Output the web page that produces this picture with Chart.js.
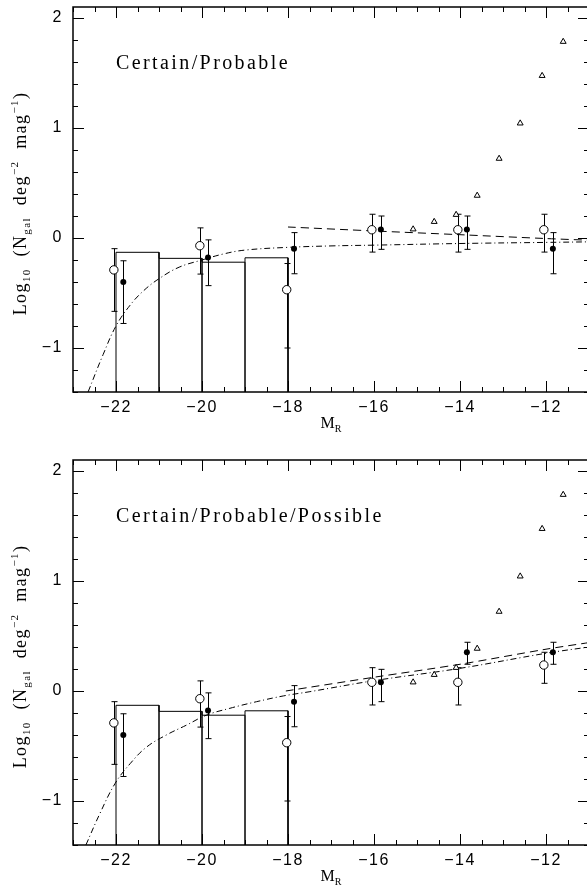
<!DOCTYPE html>
<html>
<head>
<meta charset="utf-8">
<script src="https://cdn.jsdelivr.net/npm/chart.js@4.4.1/dist/chart.umd.min.js"></script>
<style>
  html, body { margin: 0; padding: 0; background: #fff; width: 587px; height: 886px; overflow: hidden; }
  .panel { position: absolute; left: 0; width: 600px; height: 443px; }
</style>
</head>
<body>
<div class="panel" style="top:0"><canvas id="topChart" width="600" height="443"></canvas></div>
<div class="panel" style="top:443px"><canvas id="bottomChart" width="600" height="443"></canvas></div>
<script>
// axis ranges and tick labels
const xMin = -23, xMax = -11;
const yMin = -1.4, yMax = 2.1;
const xTicks = [-22, -20, -18, -16, -14, -12];
const yTicks = [-1, 0, 1, 2];

// histogram (same in both panels)
const binEdges = [-22, -21, -20, -19, -18];
const binHeights = [-0.13, -0.185, -0.22, -0.18];

// open circles
const openX = [-22.05, -20.05, -18.03, -16.05, -14.05, -12.05];
const openYTop = [-0.29, -0.07, -0.47, 0.075, 0.075, 0.075];
const openHiTop = [-0.097, 0.092, -0.232, 0.216, 0.216, 0.216];
const openLoTop = [-0.667, -0.328, -1.0, -0.128, -0.128, -0.128];
const openYBot = [-0.29, -0.07, -0.47, 0.079, 0.079, 0.236];
const openHiBot = [-0.097, 0.092, -0.232, 0.212, 0.212, 0.352];
const openLoBot = [-0.667, -0.328, -1.0, -0.127, -0.127, 0.07];

// filled circles
const filledX = [-21.83, -19.86, -17.86, -15.84, -13.84, -11.84];
const filledYTop = [-0.40, -0.177, -0.097, 0.077, 0.077, -0.097];
const filledHiTop = [-0.207, -0.017, 0.049, 0.2, 0.2, 0.049];
const filledLoTop = [-0.777, -0.433, -0.325, -0.103, -0.103, -0.325];
const filledYBot = [-0.40, -0.177, -0.097, 0.079, 0.352, 0.352];
const filledHiBot = [-0.207, -0.017, 0.049, 0.197, 0.443, 0.443];
const filledLoBot = [-0.777, -0.433, -0.325, -0.097, 0.243, 0.243];

// open triangles (same in both panels)
const triX = [-15.09, -14.6, -14.09, -13.6, -13.09, -12.6, -12.09, -11.6];
const triY = [0.08, 0.148, 0.212, 0.386, 0.722, 1.043, 1.475, 1.785];

// dash-dot curves
const schTopX = [-22.65, -22.3, -22.0, -21.67, -21.36, -21.0, -20.53, -20.0, -19.5, -19.0, -18.0, -17.0, -16.0, -14.0, -12.0, -11.0];
const schTopY = [-1.4, -1.06, -0.80, -0.61, -0.48, -0.37, -0.265, -0.2, -0.145, -0.11, -0.085, -0.072, -0.065, -0.05, -0.04, -0.035];
const schBotX = [-22.7, -22.37, -22.02, -21.67, -21.29, -20.83, -20.36, -19.9, -19.35, -18.73, -18.11, -17.49, -16.0, -14.0, -12.0, -11.0];
const schBotY = [-1.4, -1.11, -0.84, -0.66, -0.51, -0.40, -0.31, -0.22, -0.157, -0.097, -0.045, -0.006, 0.094, 0.206, 0.343, 0.40];

// dashed lines
const dashTopX = [-18.0, -16.0, -14.0, -12.0, -11.0];
const dashTopY = [0.10, 0.064, 0.03, -0.005, -0.02];
const dashBotX = [-18.05, -16.0, -14.0, -12.0, -11.0];
const dashBotY = [0.0, 0.125, 0.243, 0.38, 0.44];

const MINUS = '\u2212';

function pts(xs, ys) {
    return xs.map((x, i) => ({ x: x, y: ys[i] }));
}

function histPath() {
    let p = [];
    for (let i = 0; i < binHeights.length; i++) {
        p.push({ x: binEdges[i], y: yMin });
        p.push({ x: binEdges[i], y: binHeights[i] });
        p.push({ x: binEdges[i + 1], y: binHeights[i] });
    }
    p.push({ x: binEdges[binEdges.length - 1], y: yMin });
    return p;
}

function fmt(v) {
    return v < 0 ? MINUS + Math.abs(v) : String(v);
}

// error bars under the markers
const errorBars = {
    id: 'errorBars',
    beforeDraw(chart) {
        // wider spacing for the tick labels, like the original plot
        chart.ctx.letterSpacing = '1.5px';
    },
    beforeDatasetsDraw(chart) {
        const { ctx, scales: { x, y } } = chart;
        ctx.save();
        ctx.strokeStyle = '#000';
        ctx.lineWidth = 1;
        chart.data.datasets.forEach(ds => {
            if (!ds.errHi) return;
            ds.data.forEach((p, j) => {
                const px = Math.round(x.getPixelForValue(p.x)) + 0.5;
                const y1 = y.getPixelForValue(ds.errHi[j]);
                const y2 = y.getPixelForValue(ds.errLo[j]);
                ctx.beginPath();
                ctx.moveTo(px, y1); ctx.lineTo(px, y2);
                ctx.moveTo(px - 3, y1); ctx.lineTo(px + 3, y1);
                ctx.moveTo(px - 3, y2); ctx.lineTo(px + 3, y2);
                ctx.stroke();
            });
        });
        ctx.restore();
    }
};

// frame, inward ticks and the texts
const frame = {
    id: 'frame',
    afterDraw(chart, args, opts) {
        const { ctx, chartArea: a, scales: { x, y } } = chart;
        ctx.save();
        ctx.strokeStyle = '#000';
        ctx.lineWidth = 1.5;
        ctx.strokeRect(a.left, a.top, a.right - a.left, a.bottom - a.top);

        ctx.lineWidth = 1;
        ctx.beginPath();
        for (let v = xMin; v <= xMax + 1e-6; v += 0.5) {
            const px = Math.round(x.getPixelForValue(v)) + 0.5;
            const len = xTicks.some(t => Math.abs(t - v) < 1e-6) ? 11 : 5;
            ctx.moveTo(px, a.bottom); ctx.lineTo(px, a.bottom - len);
            ctx.moveTo(px, a.top); ctx.lineTo(px, a.top + len);
        }
        for (let k = 0; yMin + k * 0.2 <= yMax + 1e-6; k++) {
            const v = yMin + k * 0.2;
            const py = Math.round(y.getPixelForValue(v)) + 0.5;
            const len = yTicks.some(t => Math.abs(t - v) < 1e-6) ? 11 : 5;
            ctx.moveTo(a.left, py); ctx.lineTo(a.left + len, py);
            ctx.moveTo(a.right, py); ctx.lineTo(a.right - len, py);
        }
        ctx.stroke();

        ctx.fillStyle = '#000';
        ctx.textAlign = 'left';
        ctx.textBaseline = 'alphabetic';

        // panel label
        ctx.font = '20px "Liberation Serif"';
        ctx.letterSpacing = '2.4px';
        ctx.fillText(opts.label, x.getPixelForValue(-22), y.getPixelForValue(1.6) + 7);

        // x title M_R
        const cx = (a.left + a.right) / 2;
        ctx.letterSpacing = '0px';
        ctx.font = '16px "Liberation Serif"';
        const mw = ctx.measureText('M').width;
        ctx.font = '10px "Liberation Serif"';
        const rw = ctx.measureText('R').width;
        const xs = cx - (mw + rw) / 2;
        ctx.font = '16px "Liberation Serif"';
        ctx.fillText('M', xs, a.bottom + 36);
        ctx.font = '10px "Liberation Serif"';
        ctx.fillText('R', xs + mw, a.bottom + 40);

        // y title, rotated
        const parts = [['Log', 0], ['10', 1], ['  (N', 0], ['gal', 1], ['  deg', 0], [MINUS + '2', 2],
                       ['  mag', 0], [MINUS + '1', 2], [')', 0]];
        const fonts = ['18px "Liberation Serif"', '11px "Liberation Serif"', '11px "Liberation Serif"'];
        const shift = [0, 4, -8];
        ctx.letterSpacing = '1.4px';
        let total = 0;
        parts.forEach(p => { ctx.font = fonts[p[1]]; total += ctx.measureText(p[0]).width; });
        ctx.translate(26, (a.top + a.bottom) / 2 + 4);
        ctx.rotate(-Math.PI / 2);
        let pos = -total / 2;
        parts.forEach(p => {
            ctx.font = fonts[p[1]];
            ctx.fillText(p[0], pos, shift[p[1]]);
            pos += ctx.measureText(p[0]).width;
        });
        ctx.restore();
    }
};

function makePanel(id, label, topPad, xAxisH, d) {
    return new Chart(document.getElementById(id), {
        type: 'scatter',
        data: {
            datasets: [
                {
                    data: pts(filledX, d.filledY), errHi: d.filledHi, errLo: d.filledLo,
                    pointStyle: 'circle', pointRadius: 3, backgroundColor: '#000', borderColor: '#000', borderWidth: 0
                },
                {
                    data: pts(openX, d.openY), errHi: d.openHi, errLo: d.openLo,
                    pointStyle: 'circle', pointRadius: 4.2, backgroundColor: '#fff', borderColor: '#000', borderWidth: 1
                },
                {
                    data: pts(triX, triY),
                    pointStyle: 'triangle', pointRadius: 3.4, backgroundColor: '#fff', borderColor: '#000', borderWidth: 1
                },
                {
                    data: pts(d.dashX, d.dashY), showLine: true, pointRadius: 0,
                    borderColor: '#000', borderWidth: 1, borderDash: [8, 5], tension: 0.3
                },
                {
                    data: pts(d.schX, d.schY), showLine: true, pointRadius: 0,
                    borderColor: '#000', borderWidth: 1, borderDash: [6, 3, 1, 3], tension: 0.4
                },
                {
                    data: histPath(), showLine: true, pointRadius: 0,
                    borderColor: '#000', borderWidth: 1, tension: 0
                }
            ]
        },
        options: {
            responsive: false,
            animation: false,
            devicePixelRatio: 1,
            layout: { padding: { top: topPad, right: 11, left: 0, bottom: 0 } },
            plugins: {
                legend: { display: false },
                tooltip: { enabled: false },
                frame: { label: label }
            },
            scales: {
                x: {
                    type: 'linear', min: xMin, max: xMax,
                    grid: { display: false, drawTicks: false },
                    border: { display: false },
                    afterBuildTicks: axis => { axis.ticks = xTicks.map(v => ({ value: v })); },
                    afterFit: axis => { axis.height = xAxisH; axis.paddingLeft = 0; axis.paddingRight = 0; },
                    ticks: {
                        padding: 6, color: '#000', maxRotation: 0, autoSkip: false,
                        font: { family: '"Liberation Sans"', size: 16 },
                        callback: v => fmt(v)
                    }
                },
                y: {
                    type: 'linear', min: yMin, max: yMax,
                    grid: { display: false, drawTicks: false },
                    border: { display: false },
                    afterBuildTicks: axis => { axis.ticks = yTicks.map(v => ({ value: v })); },
                    afterFit: axis => { axis.width = 73; axis.paddingTop = 0; axis.paddingBottom = 0; },
                    ticks: {
                        padding: 10, color: '#000', autoSkip: false,
                        font: { family: '"Liberation Sans"', size: 16 },
                        callback: v => fmt(v)
                    }
                }
            }
        },
        plugins: [errorBars, frame]
    });
}

makePanel('topChart', 'Certain/Probable', 7, 51, {
    openY: openYTop, openHi: openHiTop, openLo: openLoTop,
    filledY: filledYTop, filledHi: filledHiTop, filledLo: filledLoTop,
    schX: schTopX, schY: schTopY, dashX: dashTopX, dashY: dashTopY
});

makePanel('bottomChart', 'Certain/Probable/Possible', 17, 41, {
    openY: openYBot, openHi: openHiBot, openLo: openLoBot,
    filledY: filledYBot, filledHi: filledHiBot, filledLo: filledLoBot,
    schX: schBotX, schY: schBotY, dashX: dashBotX, dashY: dashBotY
});
</script>
</body>
</html>
